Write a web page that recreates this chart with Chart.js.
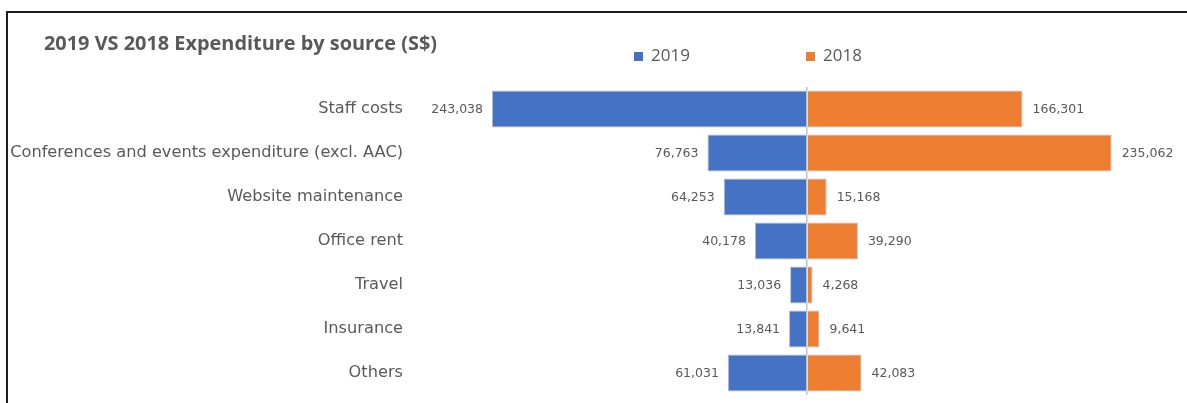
<!DOCTYPE html>
<html>
<head>
<meta charset="utf-8">
<script src="https://cdn.jsdelivr.net/npm/chart.js@4"></script>
<style>
  html, body { margin: 0; padding: 0; background: #fff; }
  #wrap { width: 1187px; height: 403px; position: relative; }
</style>
</head>
<body>
<div id="wrap"><canvas id="expChart" width="1187" height="403"></canvas></div>
<script>
const categories = ['Staff costs', 'Conferences and events expenditure (excl. AAC)', 'Website maintenance', 'Office rent', 'Travel', 'Insurance', 'Others'];
const values2019 = [243038, 76763, 64253, 40178, 13036, 13841, 61031];
const values2018 = [166301, 235062, 15168, 39290, 4268, 9641, 42083];
const seriesNames = ['2019', '2018'];
const chartTitle = '2019 VS 2018 Expenditure by source (S$)';

const textGrey = '#595959';

// frame, title and legend drawn on top of the canvas
const headerPlugin = {
    id: 'header',
    afterDraw(chart) {
        const c = chart.ctx;
        c.save();
        c.fillStyle = '#1e1e1e';
        c.fillRect(6, 11, chart.width - 6, 2);
        c.fillRect(6, 11, 2, chart.height - 11);

        c.fillStyle = textGrey;
        c.font = 'bold 19.9px "Open Sans"';
        c.textBaseline = 'middle';
        c.textAlign = 'left';
        c.fillText(chartTitle, 44, 44);

        const legendX = [634, 806];
        c.font = '17px "Open Sans"';
        chart.data.datasets.forEach((ds, i) => {
            c.fillStyle = ds.backgroundColor;
            c.fillRect(legendX[i], 52, 9, 9);
            c.fillStyle = textGrey;
            c.fillText(ds.label, legendX[i] + 17, 56);
        });
        c.restore();
    }
};

// value labels at the end of each bar
const valueLabels = {
    id: 'valueLabels',
    afterDatasetsDraw(chart) {
        const c = chart.ctx;
        c.save();
        c.font = '12.5px "DejaVu Sans"';
        c.fillStyle = textGrey;
        c.textBaseline = 'middle';
        chart.data.datasets.forEach((ds, i) => {
            const meta = chart.getDatasetMeta(i);
            meta.data.forEach((bar, j) => {
                const v = Math.abs(ds.data[j]).toLocaleString('en-US');
                if (ds.data[j] < 0) {
                    c.textAlign = 'right';
                    c.fillText(v, bar.x - 9, bar.y + 1);
                } else {
                    c.textAlign = 'left';
                    c.fillText(v, bar.x + 10, bar.y + 1);
                }
            });
        });
        c.restore();
    }
};

new Chart(document.getElementById('expChart'), {
    type: 'bar',
    data: {
        labels: categories,
        datasets: [{
            label: seriesNames[0],
            data: values2019.map(v => -v),
            backgroundColor: '#4472C4',
            borderColor: '#b9b9b9',
            borderWidth: 1
        }, {
            label: seriesNames[1],
            data: values2018,
            backgroundColor: '#ED7D31',
            borderColor: '#b9b9b9',
            borderWidth: 1
        }]
    },
    options: {
        indexAxis: 'y',
        responsive: false,
        animation: false,
        barPercentage: 0.84,
        categoryPercentage: 1,
        layout: { padding: { top: 87, bottom: 8, left: 9, right: 0 } },
        plugins: {
            legend: { display: false },
            title: { display: false },
            tooltip: { enabled: false }
        },
        scales: {
            x: {
                stacked: true,
                min: -306300,
                max: 293200,
                z: 1,
                afterBuildTicks: axis => { axis.ticks = [{ value: 0 }]; },
                afterFit: scale => { scale.height = 0; },
                ticks: { display: false },
                border: { display: false },
                grid: { color: '#c4c4c4', lineWidth: 1.5, drawTicks: false }
            },
            y: {
                stacked: true,
                afterFit: scale => {
                    scale.width = 401;
                    scale.paddingTop = 0;
                    scale.paddingBottom = 0;
                },
                border: { display: false },
                grid: { display: false, drawTicks: false },
                ticks: {
                    padding: 7,
                    color: textGrey,
                    font: { family: 'DejaVu Sans', size: 16.2 }
                }
            }
        }
    },
    plugins: [valueLabels, headerPlugin]
});
</script>
</body>
</html>
